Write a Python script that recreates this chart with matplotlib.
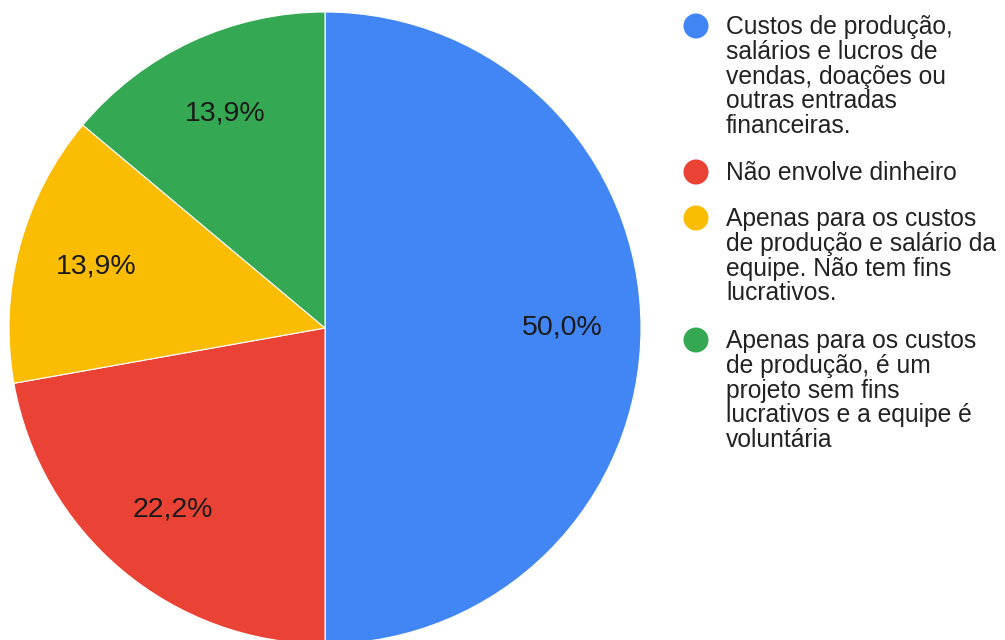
import matplotlib
matplotlib.use("Agg")
import matplotlib.pyplot as plt
from matplotlib.patches import Ellipse

plt.rcParams['font.family'] = ['Liberation Sans', 'DejaVu Sans']

labels = [
    "Custos de produção,\nsalários e lucros de\nvendas, doações ou\noutras entradas\nfinanceiras.",
    "Não envolve dinheiro",
    "Apenas para os custos\nde produção e salário da\nequipe. Não tem fins\nlucrativos.",
    "Apenas para os custos\nde produção, é um\nprojeto sem fins\nlucrativos e a equipe é\nvoluntária",
]
values = [50.0, 22.2, 13.9, 13.9]
colors = ["#4285F4", "#EA4335", "#FBBC04", "#34A853"]

W, H = 1005, 640
fig = plt.figure(figsize=(W / 100, H / 100), dpi=100)
fig.patch.set_facecolor("white")

R = 316
cx, cy = 325, 328
ax = fig.add_axes([(cx - R) / W, (H - cy - R) / H, 2 * R / W, 2 * R / H])
wedges, texts, autotexts = ax.pie(
    values, colors=colors, startangle=90, counterclock=False,
    autopct=lambda p: f"{p:.1f}%".replace(".", ","), pctdistance=0.75,
    wedgeprops=dict(edgecolor="white", linewidth=0.8),
    textprops=dict(fontsize=20.5, color="#1a1a1a"),
)
ax.set_xlim(-1, 1)
ax.set_ylim(-1, 1)
ax.set_aspect("equal")
ax.axis("off")

# Legend
entry_tops = [26, 172, 218, 340]
for lab, col, ty in zip(labels, colors, entry_tops):
    circ = Ellipse((696 / W, 1 - ty / H), 25 / W, 25 / H,
                   transform=fig.transFigure, facecolor=col, edgecolor="none")
    fig.patches.append(circ)
    fig.text(726 / W, 1 - (ty - 11) / H, lab, fontsize=17.7, color="#222222",
             ha="left", va="top", linespacing=1.04)

fig.savefig("out.png", dpi=100)
